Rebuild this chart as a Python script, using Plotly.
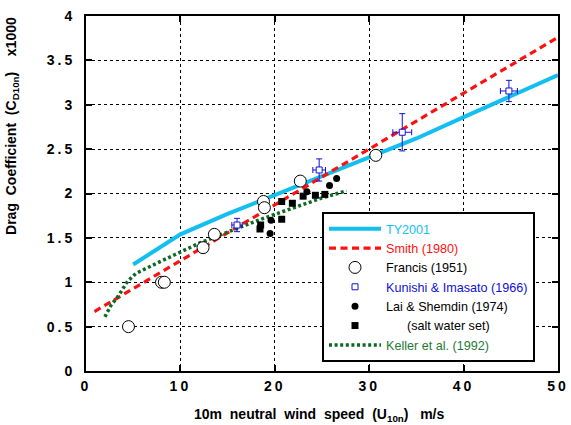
import plotly.graph_objects as go

# ---- data (wind speed m/s, drag coefficient x1000) ----
ty2001_u = [5, 10, 15, 20, 25, 30, 35, 40, 45, 50]
ty2001_cd = [1.20, 1.54, 1.77, 1.98, 2.19, 2.40, 2.62, 2.86, 3.10, 3.335]

smith_u = [0.9, 50]
smith_cd = [0.67, 3.76]

keller_u = [2.0, 2.7, 3.4, 3.9, 4.4, 5.3, 6.4, 7.8, 9.4, 12.0, 15.6, 18.8, 22.3, 25.0, 27.6]
keller_cd = [0.61, 0.75, 0.84, 0.93, 1.01, 1.10, 1.16, 1.23, 1.31, 1.44, 1.59, 1.72, 1.85, 1.95, 2.03]

francis_u = [4.5, 8.0, 8.3, 12.4, 13.6, 18.8, 18.9, 22.7, 30.7]
francis_cd = [0.50, 1.00, 1.00, 1.39, 1.54, 1.91, 1.84, 2.14, 2.43]

kunishi_u = [16.0, 24.7, 33.5, 44.8]
kunishi_cd = [1.645, 2.265, 2.69, 3.155]
kunishi_du = [0.55, 0.67, 1.0, 0.9]
kunishi_dcd = [0.075, 0.125, 0.21, 0.12]

lai_u = [19.6, 19.5, 23.4, 25.8, 26.55]
lai_cd = [1.70, 1.55, 2.02, 2.09, 2.17]

lai_salt_u = [18.5, 18.43, 20.73, 20.73, 21.86, 23.0, 24.3, 25.3]
lai_salt_cd = [1.645, 1.60, 1.91, 1.71, 1.89, 1.97, 1.98, 1.99]

x_ticks = [0, 10, 20, 30, 40, 50]
x_tick_labels = ["0", "10", "20", "30", "40", "50"]
y_ticks = [0, 0.5, 1, 1.5, 2, 2.5, 3, 3.5, 4]
y_tick_labels = ["0", "0.5", "1", "1.5", "2", "2.5", "3", "3.5", "4"]

CYAN = "#12bff0"
RED = "#ff1010"
GREEN = "#0a6a22"
GREEN_TXT = "#257a36"
BLUE = "#1010dd"
FONT = "Liberation Sans, Arial, Helvetica, sans-serif"


def spaced(s, px=3):
    return f"<span style='letter-spacing:{px}px'>{s}</span>"


fig = go.Figure()

fig.add_trace(go.Scatter(
    x=ty2001_u, y=ty2001_cd, mode="lines", name=f"<span style='color:{CYAN}'>TY2001</span>",
    line=dict(color=CYAN, width=4), legendrank=1))
fig.add_trace(go.Scatter(
    x=smith_u, y=smith_cd, mode="lines", name=f"<span style='color:{RED}'>Smith (1980)</span>",
    line=dict(color=RED, width=3.2, dash="7px,4.5px"), legendrank=2))
fig.add_trace(go.Scatter(
    x=keller_u, y=keller_cd, mode="lines", name=f"<span style='color:{GREEN_TXT}'>Keller et al. (1992)</span>",
    line=dict(color=GREEN, width=3.5, dash="3px,2.6px"), legendrank=7))
fig.add_trace(go.Scatter(
    x=francis_u, y=francis_cd, mode="markers", name="Francis (1951)",
    marker=dict(symbol="circle", size=12, color="white", line=dict(color="black", width=1)),
    legendrank=3))
fig.add_trace(go.Scatter(
    x=kunishi_u, y=kunishi_cd, mode="markers",
    name=f"<span style='color:{BLUE}'>Kunishi &amp; Imasato (1966)</span>",
    marker=dict(symbol="square", size=6, color="white", line=dict(color=BLUE, width=1)),
    error_x=dict(type="data", array=kunishi_du, color=BLUE, thickness=1, width=3),
    error_y=dict(type="data", array=kunishi_dcd, color=BLUE, thickness=1, width=3),
    legendrank=4))
fig.add_trace(go.Scatter(
    x=lai_u, y=lai_cd, mode="markers", name="Lai &amp; Shemdin (1974)",
    marker=dict(symbol="circle", size=7, color="black"), legendrank=5))
fig.add_trace(go.Scatter(
    x=lai_salt_u, y=lai_salt_cd, mode="markers",
    name="\u00a0\u00a0\u00a0\u00a0\u00a0\u00a0(salt water set)",
    marker=dict(symbol="square", size=7, color="black"), legendrank=6))

axis_common = dict(
    showline=True, linecolor="black", linewidth=2, mirror="ticks",
    ticks="inside", ticklen=6, tickwidth=2, tickcolor="black",
    showgrid=True, gridcolor="black", gridwidth=1, griddash="3px,3px",
    zeroline=False, automargin=False,
    tickfont=dict(family=FONT, size=14, color="black", weight="bold"),
)

fig.update_xaxes(range=[0, 50], tickvals=x_ticks, ticklabelstandoff=1,
                 ticktext=[spaced(t) for t in x_tick_labels], **axis_common)
fig.update_yaxes(range=[0, 4], tickvals=y_ticks, ticklabelstandoff=6,
                 ticktext=[spaced(t) for t in y_tick_labels], **axis_common)

fig.update_layout(
    width=571, height=425,
    margin=dict(l=86, r=13, t=16, b=54),
    paper_bgcolor="white", plot_bgcolor="white",
    font=dict(family=FONT, color="black"),
    legend=dict(
        x=0.5, y=0.448, xanchor="left", yanchor="top",
        bgcolor="white", bordercolor="black", borderwidth=2,
        font=dict(family=FONT, size=12.6, color="black"),
        itemwidth=52, tracegroupgap=0,
    ),
    annotations=[
        dict(text="<b>Drag\u00a0 Coefficient\u00a0 (C<sub>D10n</sub>)\u00a0\u00a0\u00a0 x1000</b>",
             xref="paper", yref="paper", x=-0.157, y=0.69, textangle=-90,
             showarrow=False, font=dict(family=FONT, size=14, color="black"),
             xanchor="center", yanchor="middle"),
        dict(text="<b>10m\u00a0 neutral\u00a0 wind\u00a0 speed\u00a0 (U<sub>10n</sub>)\u00a0\u00a0 m/s</b>",
             xref="paper", yref="paper", x=0.494, y=-0.125,
             showarrow=False, font=dict(family=FONT, size=14, color="black"),
             xanchor="center", yanchor="middle"),
    ],
)

fig.write_html("out.html")
